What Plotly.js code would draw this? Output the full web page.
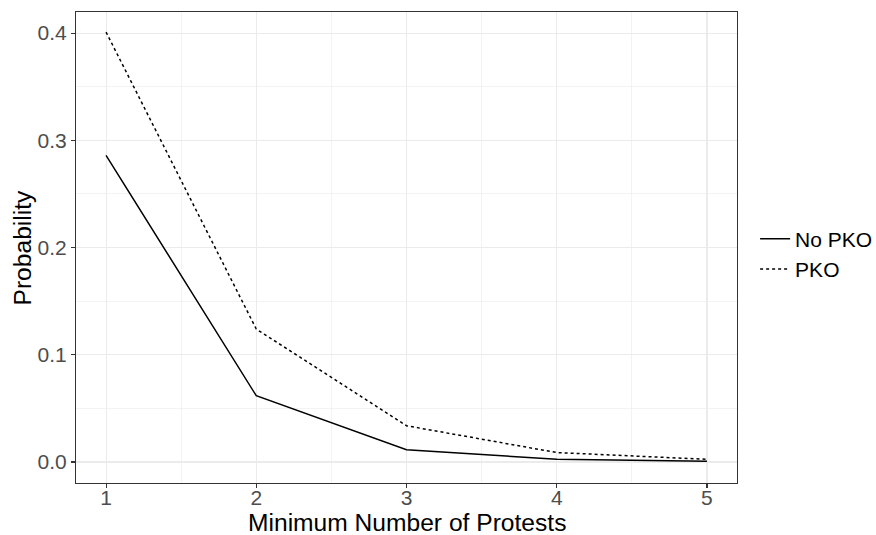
<!DOCTYPE html>
<html>
<head>
<meta charset="utf-8">
<script src="https://cdn.plot.ly/plotly-3.0.1.min.js"></script>
<style>html,body{margin:0;padding:0;background:#fff;}#chart{width:876px;height:535px;}</style>
</head>
<body>
<div id="chart"></div>
<script>
var minProtests = [1, 2, 3, 4, 5];
var noPKO = [0.286, 0.0618, 0.0115, 0.0025, 0.0008];
var pko = [0.401, 0.124, 0.0338, 0.0088, 0.0025];
var xTickLabels = ['1', '2', '3', '4', '5'];
var yTickVals = [0, 0.1, 0.2, 0.3, 0.4];
var yTickLabels = ['0.0', '0.1', '0.2', '0.3', '0.4'];
var xTitle = 'Minimum Number of Protests';
var yTitle = 'Probability';

var traces = [
  {x: minProtests, y: noPKO, name: 'No PKO', type: 'scatter', mode: 'lines',
   line: {color: '#000000', width: 1.5, dash: 'solid'}},
  {x: minProtests, y: pko, name: 'PKO', type: 'scatter', mode: 'lines',
   line: {color: '#000000', width: 1.5, dash: '3px,3px'}}
];

var layout = {
  width: 876, height: 535,
  margin: {l: 76, r: 139, t: 12, b: 52, pad: 0, autoexpand: false},
  paper_bgcolor: '#ffffff', plot_bgcolor: '#ffffff',
  font: {family: 'Liberation Sans, Arial, sans-serif', color: '#000000'},
  showlegend: true,
  legend: {xref: 'container', yref: 'container', x: 0.862, y: 0.525, xanchor: 'left', yanchor: 'middle',
    font: {size: 21, color: '#000000'}, bgcolor: 'rgba(0,0,0,0)',
    tracegroupgap: 0, itemwidth: 30},
  xaxis: {
    range: [0.8, 5.2], tickvals: minProtests, ticktext: xTickLabels,
    showgrid: true, gridcolor: '#EBEBEB', gridwidth: 1.1,
    minor: {dtick: 0.5, tick0: 0.5, showgrid: true, gridcolor: '#EBEBEB', gridwidth: 0.6, ticks: ''},
    zeroline: false, showline: true, mirror: true, linecolor: '#333333', linewidth: 1.1,
    ticks: 'outside', ticklen: 4, tickwidth: 1.1, tickcolor: '#333333',
    tickfont: {size: 21, color: '#4D4D4D'}, automargin: false, ticklabelstandoff: -8
  },
  yaxis: {
    range: [-0.0196, 0.4197], tickvals: yTickVals, ticktext: yTickLabels,
    showgrid: true, gridcolor: '#EBEBEB', gridwidth: 1.1,
    minor: {dtick: 0.05, tick0: 0.05, showgrid: true, gridcolor: '#EBEBEB', gridwidth: 0.6, ticks: ''},
    zeroline: false, showline: true, mirror: true, linecolor: '#333333', linewidth: 1.1,
    ticks: 'outside', ticklen: 4, tickwidth: 1.1, tickcolor: '#333333',
    tickfont: {size: 21, color: '#4D4D4D'}, automargin: false
  },
  annotations: [
    {text: xTitle, xref: 'paper', yref: 'paper', x: 0.5, y: -0.084, xanchor: 'center', yanchor: 'middle',
     showarrow: false, font: {size: 24.6, color: '#000000'}},
    {text: yTitle, xref: 'paper', yref: 'paper', x: -0.0802, y: 0.5, xanchor: 'center', yanchor: 'middle',
     textangle: -90, showarrow: false, font: {size: 24.6, color: '#000000'}}
  ]
};

Plotly.newPlot('chart', traces, layout, {displayModeBar: false, staticPlot: true});
</script>
</body>
</html>
